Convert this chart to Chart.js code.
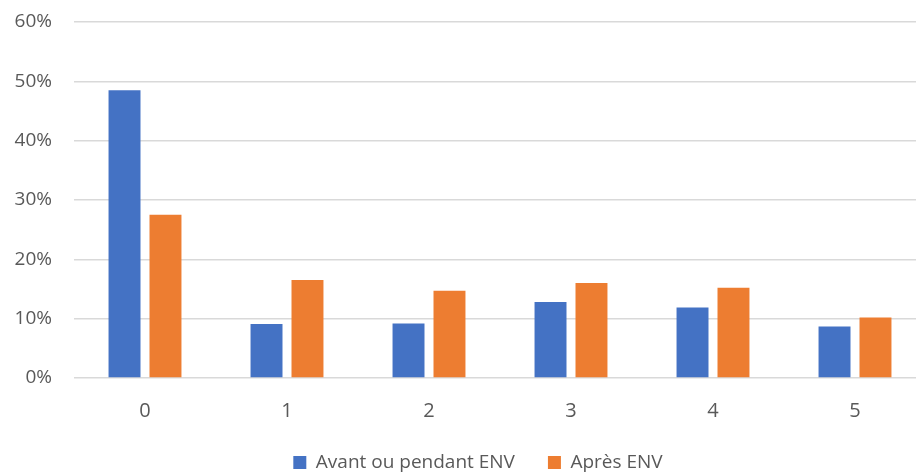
<!DOCTYPE html>
<html>
<head>
<meta charset="utf-8">
<script src="https://cdn.jsdelivr.net/npm/chart.js@4"></script>
<style>
    body { margin: 0; overflow: hidden; background: #fff; }
    .wrap { width: 926px; height: 482px; }
</style>
</head>
<body>
<div class="wrap"><canvas id="chart" width="926" height="482"></canvas></div>
<script>
const categories = ['0', '1', '2', '3', '4', '5'];
const avantValues = [48.5, 9.1, 9.2, 12.8, 11.9, 8.7];
const apresValues = [27.5, 16.5, 14.7, 16.0, 15.2, 10.2];
const seriesNames = ['Avant ou pendant ENV', 'Après ENV'];
const yTicks = [0, 10, 20, 30, 40, 50, 60];

const textColor = '#595959';
const gridColor = '#d9d9d9';

// the legend in the original sits a bit right of centre
const legendShift = {
    id: 'legendShift',
    afterLayout(chart) {
        if (!chart.legend) return;
        chart.legend.left += 15;
        chart.legend.right += 15;
    }
};

new Chart(document.getElementById('chart'), {
    type: 'bar',
    data: {
        labels: categories,
        datasets: [{
            label: seriesNames[0],
            data: avantValues,
            backgroundColor: '#4472c4',
            barPercentage: 0.78,
            categoryPercentage: 0.577
        }, {
            label: seriesNames[1],
            data: apresValues,
            backgroundColor: '#ed7d31',
            barPercentage: 0.78,
            categoryPercentage: 0.577
        }]
    },
    options: {
        responsive: false,
        animation: false,
        layout: {
            padding: {left: 0, top: 22, right: 0, bottom: 0}
        },
        scales: {
            x: {
                grid: {display: false, drawTicks: false},
                border: {display: false},
                afterFit(axis) { axis.height = 42; },
                ticks: {
                    color: textColor,
                    padding: 21,
                    font: {family: 'Open Sans', size: 20}
                }
            },
            y: {
                min: 0,
                max: 60,
                afterBuildTicks(axis) {
                    axis.ticks = yTicks.map(v => ({value: v}));
                },
                afterFit(axis) {
                    axis.width = 74;
                    axis.paddingTop = 0;
                    axis.paddingBottom = 0;
                },
                grid: {color: gridColor, lineWidth: 1.5, drawTicks: false},
                border: {display: false},
                ticks: {
                    color: textColor,
                    padding: 22,
                    font: {family: 'Open Sans', size: 19},
                    callback: (v) => v + '%'
                }
            }
        },
        plugins: {
            legend: {
                position: 'bottom',
                labels: {
                    color: textColor,
                    boxWidth: 13,
                    boxHeight: 13,
                    padding: 33,
                    font: {family: 'Open Sans', size: 19}
                }
            },
            tooltip: {enabled: false}
        }
    },
    plugins: [legendShift]
});
</script>
</body>
</html>
